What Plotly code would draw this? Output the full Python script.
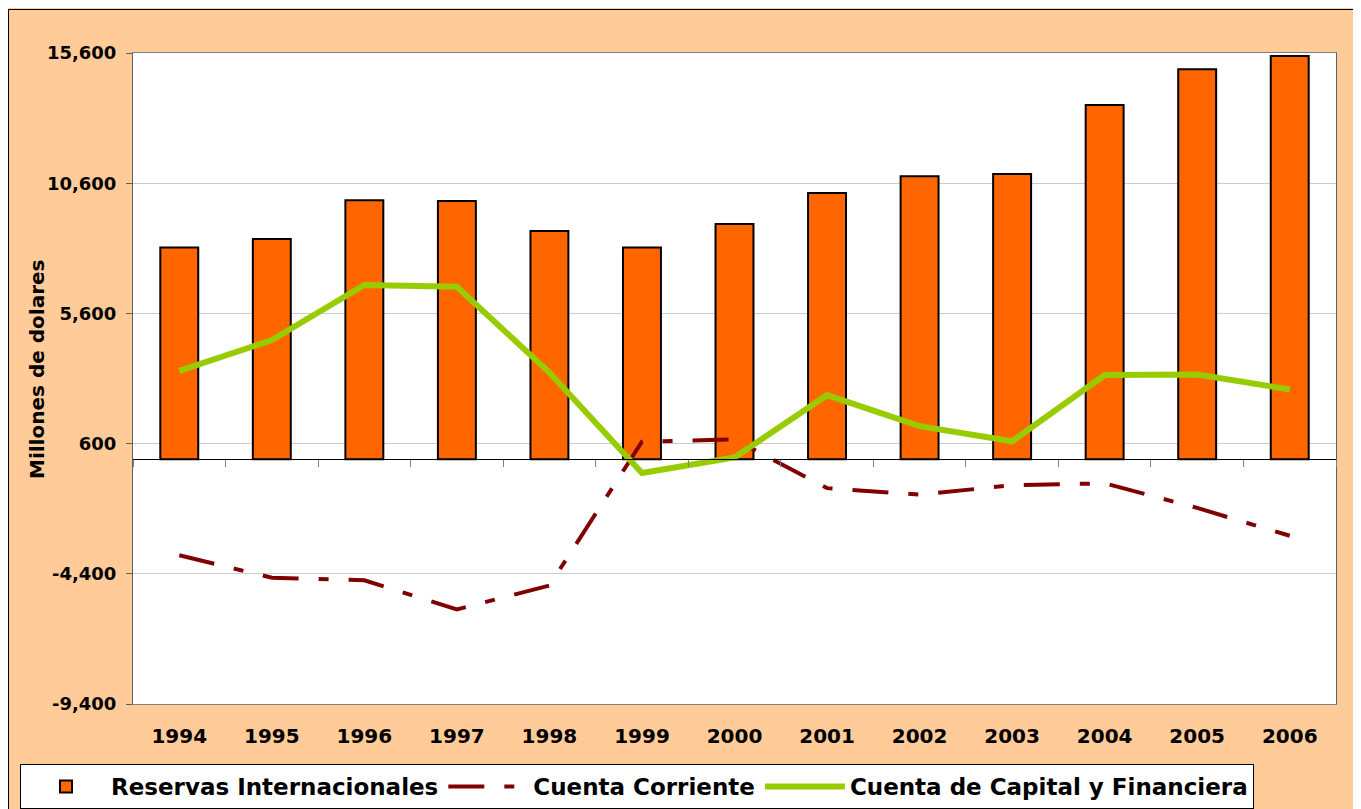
import numpy as np
import plotly.graph_objects as go

# ---- data (millones de dolares) ----
years = ['1994', '1995', '1996', '1997', '1998', '1999', '2000',
         '2001', '2002', '2003', '2004', '2005', '2006']
reservas = [8130, 8455, 9950, 9915, 8760, 8130, 9030,
            10225, 10870, 10950, 13600, 14980, 15480]
cuenta_corriente = [-3690, -4550, -4650, -5770, -4850, 672, 760,
                    -1110, -1360, -1000, -926, -1870, -2940]
cuenta_capital = [3390, 4575, 6690, 6620, 3330, -530, 70,
                  2460, 1270, 690, 3230, 3255, 2680]

y_min, y_max = -9400, 15600
y_tick_vals = [-9400, -4400, 600, 5600, 10600, 15600]
y_tick_text = ['-9,400', '-4,400', '600', '5,600', '10,600', '15,600']

# ---- geometry helpers (figure pixel -> paper) ----
W, H = 1353, 801
L, R, T, B = 125, 25, 45, 105
PW, PH = W - L - R, H - T - B


def fx(p):
    return (p - L) / PW


def fy(p):
    return (H - B - p) / PH


fig = go.Figure()
fig.add_trace(go.Bar(
    x=years, y=reservas, name='Reservas Internacionales',
    marker=dict(color='#FF6600', line=dict(color='black', width=2)),
))
fig.add_trace(go.Scatter(
    x=years, y=cuenta_corriente, name='Cuenta Corriente', mode='lines',
    line=dict(color='#800000', width=4, dash='36px,20px,10px,20px'),
))
fig.add_trace(go.Scatter(
    x=years, y=cuenta_capital, name='Cuenta de Capital y Financiera', mode='lines',
    line=dict(color='#99CC00', width=6),
))
# helper trace so that the zero-crossing category axis is drawn
fig.add_trace(go.Scatter(x=[None], y=[None], xaxis='x2', showlegend=False,
                         hoverinfo='skip'))

bold = dict(family='DejaVu Sans', color='black', weight='bold')

fig.update_layout(
    width=W, height=H,
    margin=dict(l=L, r=R, t=T, b=B, autoexpand=False),
    paper_bgcolor='#FFCC99', plot_bgcolor='white',
    bargap=0.59,
    font=dict(family='DejaVu Sans', color='black'),
    xaxis=dict(
        type='category', range=[-0.5, 12.5],
        showline=True, linecolor='#808080', linewidth=1, mirror=True,
        ticks='', showgrid=False, zeroline=False,
        tickfont=dict(size=20, **bold), ticklabelstandoff=14,
    ),
    xaxis2=dict(
        overlaying='x', anchor='free', position=(0 - y_min) / (y_max - y_min),
        range=[-0.5, 12.5], showline=True, linecolor='black', linewidth=1,
        ticks='outside', ticklen=7, tickcolor='#808080',
        tickvals=list(np.arange(-0.5, 13, 1.0)), showticklabels=False,
        showgrid=False, zeroline=False,
    ),
    yaxis=dict(
        range=[y_min, y_max], tickvals=y_tick_vals, ticktext=y_tick_text,
        ticks='outside', ticklen=6, tickcolor='#606060',
        showline=True, linecolor='#606060', linewidth=1, mirror=True,
        showgrid=True, gridcolor='#CCCCCC', gridwidth=1, zeroline=False,
        tickfont=dict(size=18, **bold), ticklabelstandoff=6,
    ),
    legend=dict(
        orientation='h', x=fx(12), y=fy(756), xanchor='left', yanchor='top',
        bgcolor='white', bordercolor='black', borderwidth=1,
        font=dict(size=23, **bold), itemwidth=80, traceorder='normal',
    ),
    annotations=[dict(
        text='Millones de dolares', textangle=-90, showarrow=False,
        xref='paper', yref='paper', x=fx(29), y=fy(362),
        xanchor='center', yanchor='middle', font=dict(size=20, **bold),
    )],
    shapes=[
        dict(type='line', xref='paper', yref='paper',
             x0=fx(0.5), x1=fx(0.5), y0=fy(H + 5), y1=fy(1.5),
             line=dict(color='black', width=1), layer='above'),
        dict(type='line', xref='paper', yref='paper',
             x0=fx(0.5), x1=fx(W + 5), y0=fy(1.5), y1=fy(1.5),
             line=dict(color='black', width=1), layer='above'),
    ],
)

fig.write_html("out.html")
